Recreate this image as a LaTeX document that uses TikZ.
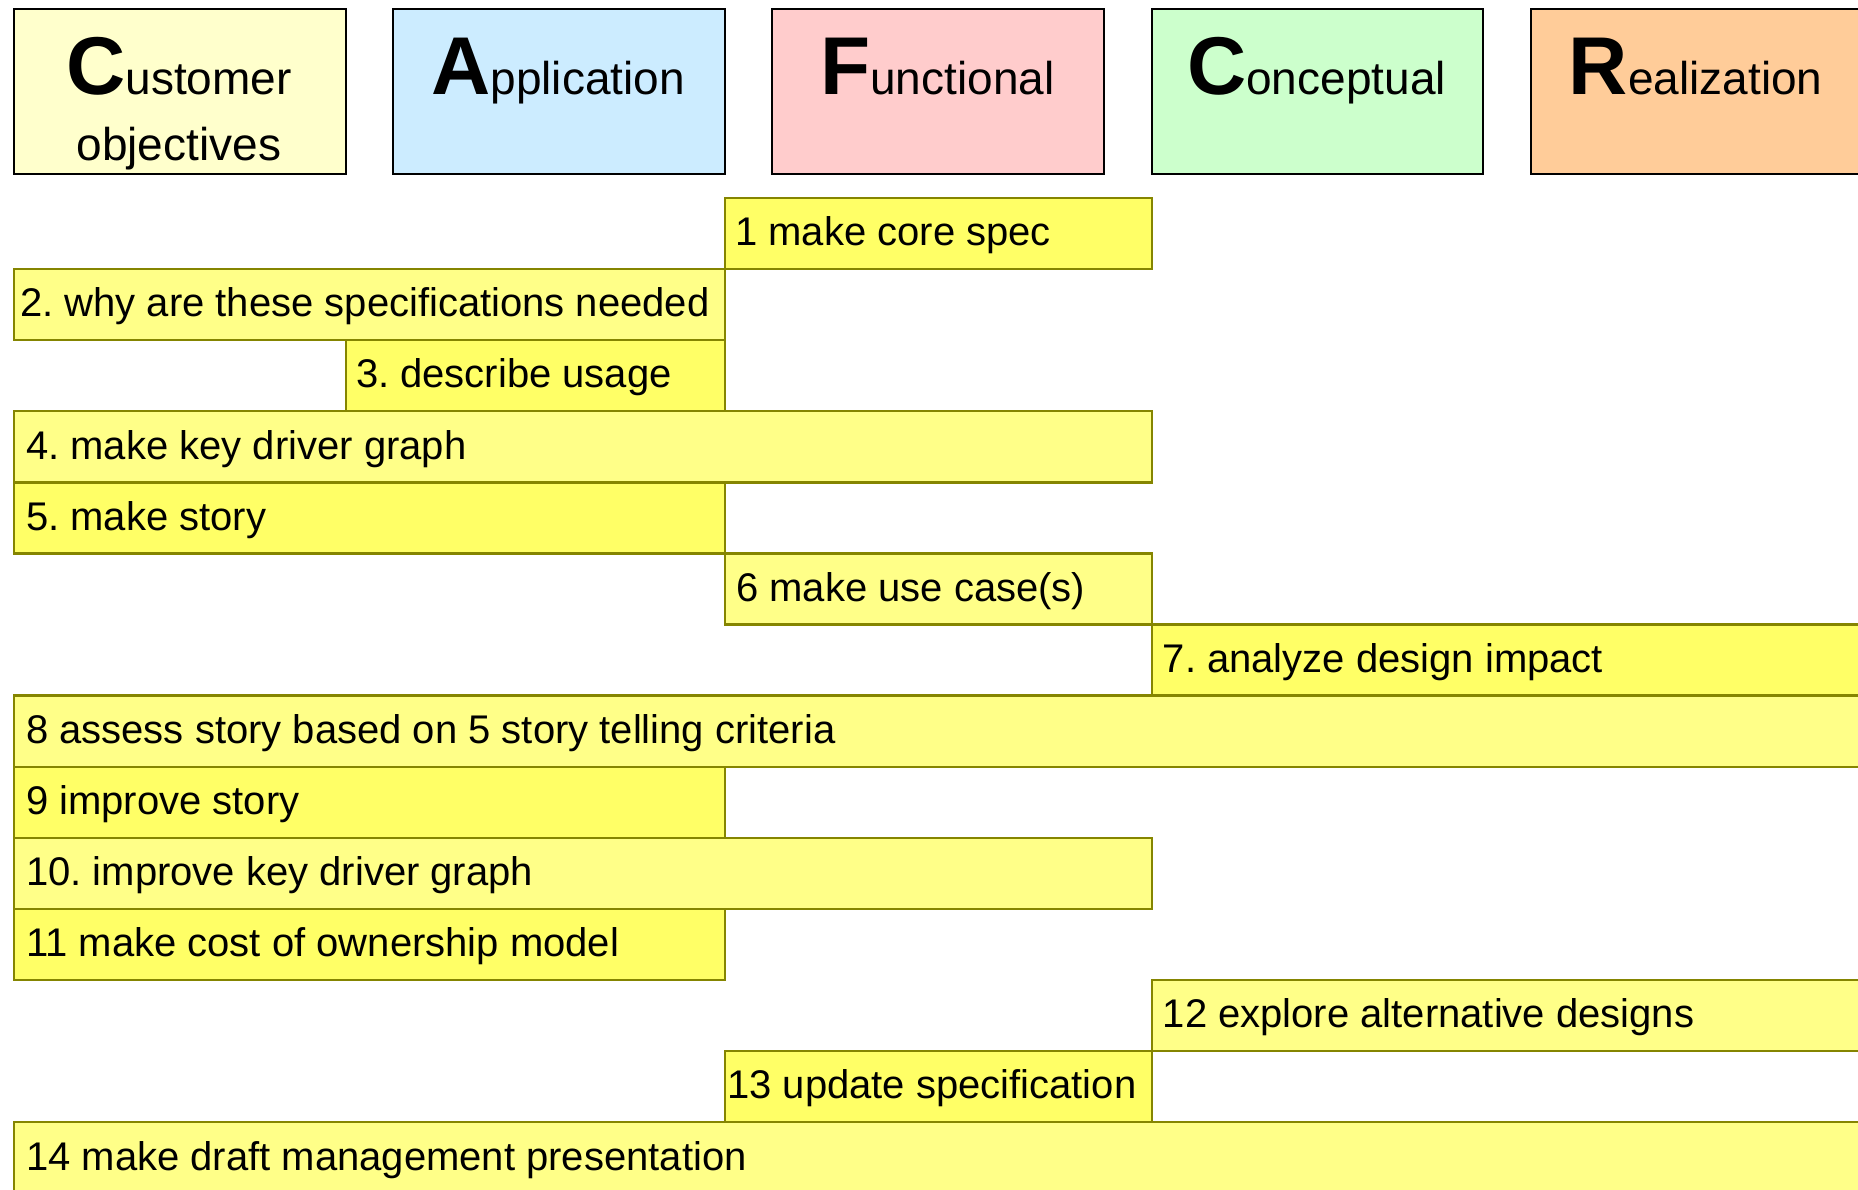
\documentclass[tikz,border=0pt]{standalone}
\usepackage{fontspec}
\setmainfont{Liberation Sans}
\frenchspacing
\definecolor{custc}{HTML}{FFFFCC}
\definecolor{appc}{HTML}{CCECFF}
\definecolor{funcc}{HTML}{FFCCCC}
\definecolor{concc}{HTML}{CCFFCC}
\definecolor{realc}{HTML}{FFCC99}
\definecolor{rowdark}{HTML}{FFFF66}
\definecolor{rowlight}{HTML}{FFFF88}
\definecolor{rowline}{HTML}{858500}
\newcommand{\bigL}[1]{{\fontsize{82}{82}\selectfont\bfseries #1}}
\newcommand{\smallT}[1]{{\fontsize{46}{52}\selectfont #1}}
\begin{document}
\begin{tikzpicture}[x=1pt,y=-1pt,
  headbox/.style={draw=black, line width=2pt, rectangle, inner sep=0pt, minimum width=331.8pt, minimum height=164.7pt, anchor=north west},
  headtext/.style={anchor=base, inner sep=0pt, font=\fontsize{46}{52}\selectfont},
  rowbox/.style={draw=rowline, line width=2.4pt, rectangle, inner sep=0pt, minimum height=71.1pt, anchor=north west},
  rowtext/.style={anchor=base west, inner sep=0pt, font=\fontsize{40}{48}\selectfont},
]
\useasboundingbox (0,0) rectangle (1858,1189);
\clip (0,0) rectangle (1858,1189);
\fill[white] (0,0) rectangle (1858,1189);

% header boxes
\node[headbox, fill=custc] (hcust) at (13,8.3) {};
\node[headbox, fill=appc] (happ) at (392.2,8.3) {};
\node[headbox, fill=funcc] (hfunc) at (771.4,8.3) {};
\node[headbox, fill=concc] (hconc) at (1150.6,8.3) {};
\node[headbox, fill=realc] (hreal) at (1529.8,8.3) {};

\node[headtext] (tcust1) at (178.9,94.5) {\bigL{C}\smallT{ustomer}};
\node[headtext] (tcust2) at (178.9,160) {objectives};
\node[headtext] (tapp) at (558.1,94.5) {\bigL{A}\smallT{pplication}};
\node[headtext] (tfunc) at (937.3,94.5) {\bigL{F}\smallT{unctional}};
\node[headtext] (tconc) at (1316.5,94.5) {\bigL{C}\smallT{onceptual}};
\node[headtext] (treal) at (1695.7,94.5) {\bigL{R}\smallT{ealization}};

% rows
\node[rowbox, fill=rowdark, minimum width=426.6pt] (r1) at (724,196.7) {};
\node[rowtext] (t1) at ([xshift=11pt,yshift=-49pt]r1.north west) {1 make core spec};

\node[rowbox, fill=rowlight, minimum width=711pt] (r2) at (13,267.8) {};
\node[rowtext] (t2) at ([xshift=7pt,yshift=-49pt]r2.north west) {2. why are these specifications needed};

\node[rowbox, fill=rowdark, minimum width=379.2pt] (r3) at (344.8,338.9) {};
\node[rowtext] (t3) at ([xshift=11pt,yshift=-49pt]r3.north west) {3. describe usage};

\node[rowbox, fill=rowlight, minimum width=1137.6pt] (r4) at (13,410.0) {};
\node[rowtext] (t4) at ([xshift=13pt,yshift=-49pt]r4.north west) {4. make key driver graph};

\node[rowbox, fill=rowdark, minimum width=711pt] (r5) at (13,481.1) {};
\node[rowtext] (t5) at ([xshift=13pt,yshift=-49pt]r5.north west) {5. make story};

\node[rowbox, fill=rowlight, minimum width=426.6pt] (r6) at (724,552.2) {};
\node[rowtext] (t6) at ([xshift=12pt,yshift=-49pt]r6.north west) {6 make use case(s)};

\node[rowbox, fill=rowdark, minimum width=711pt] (r7) at (1150.6,623.3) {};
\node[rowtext] (t7) at ([xshift=12pt,yshift=-49pt]r7.north west) {7. analyze design impact};

\node[rowbox, fill=rowlight, minimum width=1848.6pt] (r8) at (13,694.4) {};
\node[rowtext] (t8) at ([xshift=13pt,yshift=-49pt]r8.north west) {8 assess story based on 5 story telling criteria};

\node[rowbox, fill=rowdark, minimum width=711pt] (r9) at (13,765.5) {};
\node[rowtext] (t9) at ([xshift=13pt,yshift=-49pt]r9.north west) {9 improve story};

\node[rowbox, fill=rowlight, minimum width=1137.6pt] (r10) at (13,836.6) {};
\node[rowtext] (t10) at ([xshift=13pt,yshift=-49pt]r10.north west) {10. improve key driver graph};

\node[rowbox, fill=rowdark, minimum width=711pt] (r11) at (13,907.7) {};
\node[rowtext] (t11) at ([xshift=13pt,yshift=-49pt]r11.north west) {11 make cost of ownership model};

\node[rowbox, fill=rowlight, minimum width=711pt] (r12) at (1150.6,978.8) {};
\node[rowtext] (t12) at ([xshift=12pt,yshift=-49pt]r12.north west) {12 explore alternative designs};

\node[rowbox, fill=rowdark, minimum width=426.6pt] (r13) at (724,1049.9) {};
\node[rowtext] (t13) at ([xshift=3pt,yshift=-49pt]r13.north west) {13 update specification};

\node[rowbox, fill=rowlight, minimum width=1848.6pt] (r14) at (13,1121.0) {};
\node[rowtext] (t14) at ([xshift=13pt,yshift=-49pt]r14.north west) {14 make draft management presentation};
\end{tikzpicture}
\end{document}
